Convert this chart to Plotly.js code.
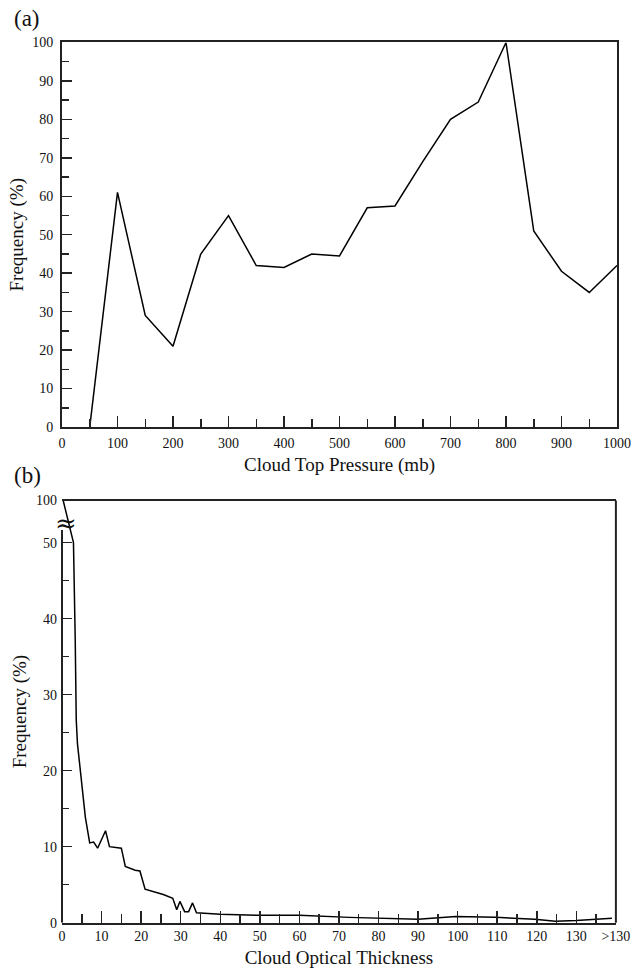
<!DOCTYPE html>
<html>
<head>
<meta charset="utf-8">
<script src="https://cdn.plot.ly/plotly-3.0.1.min.js"></script>
<style>html,body{margin:0;padding:0;background:#fff;}#chart{width:641px;height:968px;}</style>
</head>
<body>
<div id="chart"></div>
<script>
// Panel (a): Cloud top pressure histogram
const pressureMb = [50,100,150,200,250,300,350,400,450,500,550,600,650,700,750,800,850,900,950,1000];
const pressureFreq = [0,61,29,21,45,55,42,41.5,45,44.5,57,57.5,69,80,84.5,100,51,40.5,35,42];

// Panel (b): Cloud optical thickness histogram (140 = ">130")
const tauValues = [0.3,2.9,3.35,3.6,3.9,5.9,7,8,9,11,12,15,16,18.5,19.7,21,24.3,25.6,28,29,29.8,31,32,33,34,40,50,60,72.6,80,90,99.5,109.5,119.5,124.7,130,139];
const tauFreq   = [100,50,37,26.7,23.6,13.9,10.5,10.6,9.8,12.1,10,9.8,7.4,6.9,6.8,4.4,3.9,3.7,3.2,1.7,2.8,1.45,1.45,2.6,1.3,1.1,0.97,0.97,0.7,0.6,0.45,0.8,0.7,0.45,0.2,0.3,0.6];
const tauTickVals = [0,10,20,30,40,50,60,70,80,90,100,110,120,130,140];
const tauTickText = ['0','10','20','30','40','50','60','70','80','90','100','110','120','130','>130'];
const freqBTickVals = [0,10,20,30,40,50,100];
const freqBTickText = ['0','10','20','30','40','50','100'];

// broken y axis for panel (b): 0-50 linear, 50-100 compressed
const BREAK = 50, COMPRESS = 0.111;
function mapY(v){ return v <= BREAK ? v : BREAK + (v - BREAK) * COMPRESS; }

const FONT = 'Liberation Serif, Times New Roman, serif';
const AX = '#222';

const traces = [
  {x: pressureMb, y: pressureFreq, type: 'scatter', mode: 'lines',
   line: {color: '#000', width: 1.5}, xaxis: 'x', yaxis: 'y', hoverinfo: 'x+y'},
  {x: tauValues, y: tauFreq.map(mapY), type: 'scatter', mode: 'lines',
   line: {color: '#000', width: 1.5}, xaxis: 'x2', yaxis: 'y2',
   text: tauFreq.map(String), hoverinfo: 'x+text'}
];

const tickFont = {family: FONT, size: 14, color: '#111'};
const titleFont = {family: FONT, size: 19, color: '#111'};

const layout = {
  width: 641, height: 968,
  margin: {l: 62, r: 24, t: 0, b: 0},
  paper_bgcolor: '#fff', plot_bgcolor: '#fff',
  showlegend: false,
  font: {family: FONT, color: '#111'},
  xaxis: {
    domain: [0, 1], anchor: 'y', range: [0, 1000], dtick: 100, tick0: 0,
    showgrid: false, zeroline: false, showline: true, mirror: true,
    linecolor: AX, linewidth: 2,
    ticks: 'inside', ticklen: 11, tickwidth: 1.5, tickcolor: AX,
    minor: {dtick: 50, ticks: 'inside', ticklen: 8, tickwidth: 1.5, tickcolor: AX, showgrid: false},
    tickfont: tickFont, ticklabelstandoff: 2,
    title: {text: 'Cloud Top Pressure (mb)', font: titleFont, standoff: 8},
    automargin: false, fixedrange: true
  },
  yaxis: {
    domain: [0.55888, 0.95610], anchor: 'x', range: [0, 100], dtick: 10, tick0: 0,
    showgrid: false, zeroline: false, showline: true, mirror: true,
    linecolor: AX, linewidth: 2,
    ticks: 'inside', ticklen: 10, tickwidth: 1.5, tickcolor: AX,
    minor: {dtick: 5, ticks: 'inside', ticklen: 7, tickwidth: 1.5, tickcolor: AX, showgrid: false},
    tickfont: tickFont, ticklabelstandoff: 4,
    title: {text: 'Frequency (%)', font: titleFont, standoff: 4},
    automargin: false, fixedrange: true
  },
  xaxis2: {
    domain: [0, 0.998], anchor: 'y2', range: [0, 140],
    tickmode: 'array', tickvals: tauTickVals, ticktext: tauTickText,
    showgrid: false, zeroline: false, showline: true, mirror: true,
    linecolor: AX, linewidth: 2,
    ticks: 'inside', ticklen: 12, tickwidth: 1.5, tickcolor: AX,
    minor: {tickmode: 'array', tickvals: tauTickVals.slice(0, -1).map(v => v + 5),
            ticks: 'inside', ticklen: 9, tickwidth: 1.5, tickcolor: AX, showgrid: false},
    tickfont: tickFont, ticklabelstandoff: 0,
    title: {text: 'Cloud Optical Thickness', font: titleFont, standoff: 12},
    automargin: false, fixedrange: true
  },
  yaxis2: {
    domain: [0.04680, 0.48295], anchor: 'x2', range: [0, mapY(100)],
    tickmode: 'array', tickvals: freqBTickVals.map(mapY), ticktext: freqBTickText,
    showgrid: false, zeroline: false, showline: false,
    ticks: 'inside', ticklen: 10, tickwidth: 1.5, tickcolor: AX,
    minor: {tickmode: 'array', tickvals: [5, 15, 25, 35, 45],
            ticks: 'inside', ticklen: 7, tickwidth: 1.5, tickcolor: AX, showgrid: false},
    tickfont: tickFont, ticklabelstandoff: 4,
    title: {text: 'Frequency (%)', font: titleFont, standoff: 4},
    automargin: false, fixedrange: true
  },
  shapes: [
    // left axis of (b), interrupted above the break
    {type: 'line', xref: 'x2 domain', yref: 'y2', x0: 0, x1: 0, y0: 0, y1: mapY(65),
     line: {color: AX, width: 2}},
    // right border of (b)
    {type: 'line', xref: 'x2 domain', yref: 'y2 domain', x0: 1, x1: 1, y0: 0, y1: 1,
     line: {color: AX, width: 2}}
  ],
  annotations: [
    {text: '(a)', xref: 'paper', yref: 'paper', x: -0.063, y: 0.9814, xanchor: 'center', yanchor: 'middle',
     showarrow: false, font: {family: FONT, size: 23, color: '#111'}},
    {text: '(b)', xref: 'paper', yref: 'paper', x: -0.063, y: 0.5083, xanchor: 'center', yanchor: 'middle',
     showarrow: false, font: {family: FONT, size: 23, color: '#111'}},
    {text: '≈', xref: 'x2 domain', yref: 'y2', x: 0.008, y: mapY(73), xanchor: 'center', yanchor: 'middle',
     showarrow: false,
     font: {family: 'DejaVu Serif, Liberation Serif, serif', size: 26, color: '#111'}}
  ]
};

Plotly.newPlot('chart', traces, layout, {displayModeBar: false, staticPlot: true});
</script>
</body>
</html>
